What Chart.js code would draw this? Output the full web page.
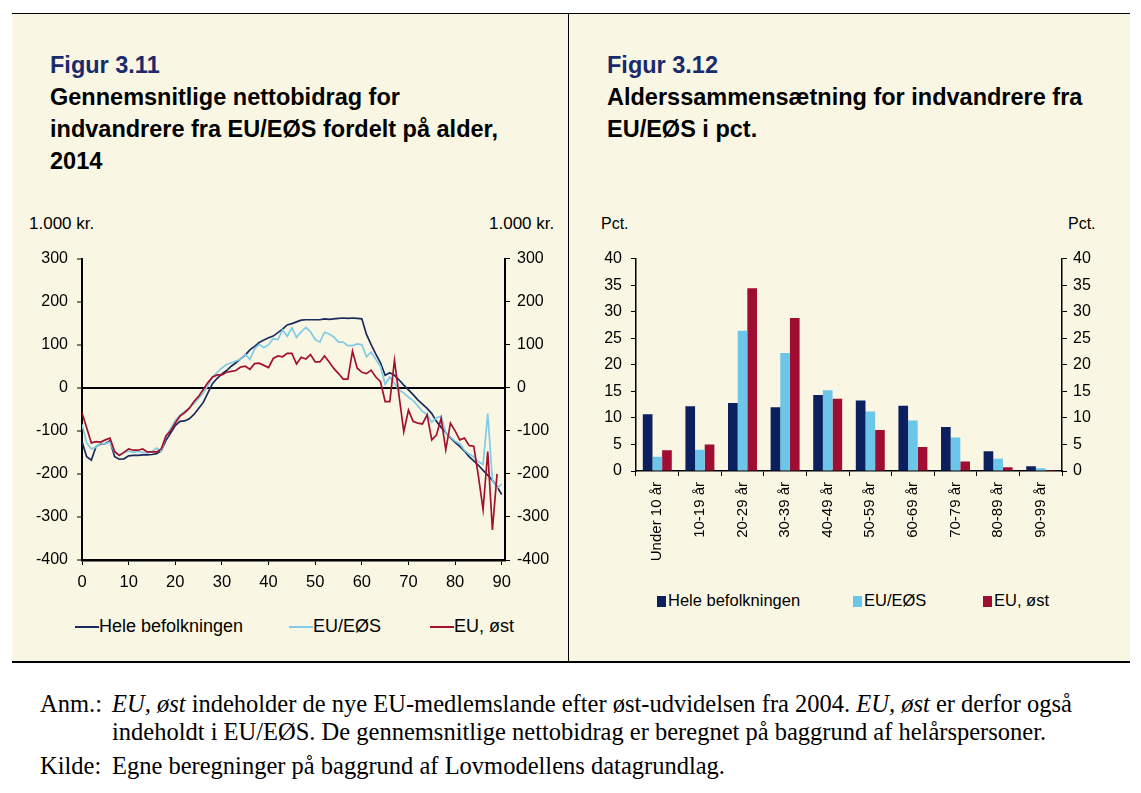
<!DOCTYPE html>
<html>
<head>
<meta charset="utf-8">
<script src="https://cdn.jsdelivr.net/npm/chart.js@4/dist/chart.umd.min.js"></script>
<style>
  body { margin: 0; background: #fff; width: 1141px; height: 793px; position: relative; overflow: hidden;
         font-family: "Liberation Sans", Arial, sans-serif; }
  .panel { position: absolute; left: 12px; top: 13px; width: 1118px; height: 647px; background: #F9F7E3;
           border-top: 1px solid #000; border-bottom: 2px solid #000; }
  .divider { position: absolute; left: 568px; top: 13px; width: 1px; height: 648px; background: #000; }
  .abs { position: absolute; white-space: nowrap; }
  .fig { color: #1B2A6B; font-weight: bold; font-size: 23.5px; }
  .ttl { color: #000; font-weight: bold; font-size: 23.5px; }
  .leg { font-size: 16.5px; }
  .legL { font-size: 18px; }
  .legline { position: absolute; height: 2px; width: 24px; }
  .legbox { position: absolute; width: 9px; height: 11px; }
  .foot { font-family: "Liberation Serif", "DejaVu Serif", serif; font-size: 24.5px; color: #000; }
  canvas { position: absolute; }
</style>
</head>
<body>
<div class="panel"></div>
<div class="divider"></div>

<div class="abs fig" style="left:50px; top:52px;">Figur 3.11</div>
<div class="abs ttl" style="left:50px; top:84px;">Gennemsnitlige nettobidrag for</div>
<div class="abs ttl" style="left:50px; top:116px;">indvandrere fra EU/EØS fordelt på alder,</div>
<div class="abs ttl" style="left:50px; top:148px;">2014</div>

<div class="abs fig" style="left:607px; top:52px;">Figur 3.12</div>
<div class="abs ttl" style="left:607px; top:84px;">Alderssammensætning for indvandrere fra</div>
<div class="abs ttl" style="left:607px; top:116px;">EU/EØS i pct.</div>

<div class="abs" style="left:29px; top:214px; font-size:17px;">1.000 kr.</div>
<div class="abs" style="left:489px; top:214px; font-size:17px;">1.000 kr.</div>
<div class="abs" style="left:601px; top:215px; font-size:16px;">Pct.</div>
<div class="abs" style="left:1068px; top:215px; font-size:16px;">Pct.</div>

<canvas id="lineChart" width="540" height="350" style="left:20px; top:240px;"></canvas>
<canvas id="barChart" width="540" height="340" style="left:580px; top:240px;"></canvas>

<!-- legends -->
<div class="legline" style="left:75px; top:626px; background:#1B2A5E;"></div>
<div class="abs legL" style="left:99px; top:616px;">Hele befolkningen</div>
<div class="legline" style="left:289px; top:626px; background:#80CBE6;"></div>
<div class="abs legL" style="left:313px; top:616px;">EU/EØS</div>
<div class="legline" style="left:430px; top:626px; background:#A3112F;"></div>
<div class="abs legL" style="left:454px; top:616px;">EU, øst</div>

<div class="legbox" style="left:657px; top:596px; background:#0C1F5E;"></div>
<div class="abs leg" style="left:668px; top:591px;">Hele befolkningen</div>
<div class="legbox" style="left:853px; top:596px; background:#6CC6EA;"></div>
<div class="abs leg" style="left:864px; top:591px;">EU/EØS</div>
<div class="legbox" style="left:983px; top:596px; background:#A00D33;"></div>
<div class="abs leg" style="left:994px; top:591px;">EU, øst</div>

<!-- footnote -->
<div class="abs foot" style="left:40px; top:690px;">Anm.:</div>
<div class="abs foot" style="left:112px; top:690px;"><i>EU, øst</i> indeholder de nye EU-medlemslande efter øst-udvidelsen fra 2004. <i>EU, øst</i> er derfor også</div>
<div class="abs foot" style="left:112px; top:718px;">indeholdt i EU/EØS. De gennemsnitlige nettobidrag er beregnet på baggrund af helårspersoner.</div>
<div class="abs foot" style="left:40px; top:752px;">Kilde:</div>
<div class="abs foot" style="left:112px; top:752px;">Egne beregninger på baggrund af Lovmodellens datagrundlag.</div>

<script>
// Figur 3.11 - net contribution by age (1.000 kr.)
const ages = [0, 1, 2, 3, 4, 5, 6, 7, 8, 9, 10, 11, 12, 13, 14, 15, 16, 17, 18, 19,
  20, 21, 22, 23, 24, 25, 26, 27, 28, 29, 30, 31, 32, 33, 34, 35, 36, 37, 38, 39,
  40, 41, 42, 43, 44, 45, 46, 47, 48, 49, 50, 51, 52, 53, 54, 55, 56, 57, 58, 59,
  60, 61, 62, 63, 64, 65, 66, 67, 68, 69, 70, 71, 72, 73, 74, 75, 76, 77, 78, 79,
  80, 81, 82, 83, 84, 85, 86, 87, 88, 89, 90];

const heleBefolkningen = [-125, -160, -168, -137, -130, -130, -123, -160, -166, -165,
  -158, -157, -157, -156, -156, -155, -153, -146, -122, -105,
  -88, -78, -77, -72, -62, -48, -34, -12, 10, 22,
  32, 40, 50, 58, 67, 76, 88, 96, 105, 111,
  116, 120, 128, 136, 146, 149, 153, 157, 158, 158,
  158, 158, 160, 159, 160, 161, 162, 161, 162, 161,
  160, 124, 100, 78, 58, 29, 35, 29, 18, 6,
  -5, -16, -28, -38, -48, -60, -78, -92, -104, -116,
  -127, -136, -147, -160, -170, -180, -192, -203, -215, -230, -248];

const euEos = [-85, -128, -142, -138, -128, -130, -126, -150, -156, -150,
  -147, -150, -148, -150, -152, -148, -140, -148, -112, -95,
  -76, -64, -55, -46, -37, -25, -12, 5, 25, 36,
  46, 54, 58, 62, 66, 78, 66, 90, 101, 93,
  100, 114, 112, 134, 120, 139, 117, 130, 140, 130,
  112, 106, 129, 125, 118, 106, 106, 98, 98, 102,
  100, 72, 83, 66, 50, 8, 25, 10, -5, -12,
  -22, -30, -42, -55, -62, -80, -70, -66, -104, -114,
  -124, -130, -145, -154, -160, -172, -178, -60, -215, -233, -224];

const euOst = [-58, -93, -128, -125, -126, -121, -117, -148, -157, -150,
  -142, -145, -145, -142, -149, -149, -149, -142, -112, -100,
  -82, -66, -58, -48, -32, -20, -4, 12, 25, 30,
  30, 36, 38, 40, 48, 50, 43, 56, 57, 52,
  47, 68, 74, 72, 80, 80, 55, 71, 67, 77,
  60, 60, 74, 60, 45, 33, 20, 20, 85, 46,
  36, 33, 41, 25, 14, -32, -32, 64, -20, -102,
  -52, -78, -82, -84, -63, -121, -110, -71, -144, -82,
  -100, -121, -117, -134, -136, -205, -283, -148, -330, -200, null];

const ageTicks = [0, 10, 20, 30, 40, 50, 60, 70, 80, 90];

// Figur 3.12 - age composition in pct.
const ageGroups = ['Under 10 år', '10-19 år', '20-29 år', '30-39 år', '40-49 år',
  '50-59 år', '60-69 år', '70-79 år', '80-89 år', '90-99 år'];
const pctHele = [10.7, 12.2, 12.8, 12.0, 14.3, 13.3, 12.3, 8.3, 3.7, 0.9];
const pctEuEos = [2.7, 4.0, 26.4, 22.2, 15.2, 11.2, 9.5, 6.3, 2.3, 0.5];
const pctEuOst = [3.9, 5.0, 34.4, 28.8, 13.6, 7.7, 4.5, 1.8, 0.7, 0.2];

Chart.defaults.font.family = '"Liberation Sans", Arial, sans-serif';
Chart.defaults.font.size = 16;
Chart.defaults.color = '#000';

function points(values) {
  return values.map((v, i) => ({ x: ages[i], y: v }));
}

const lineStyle = { pointRadius: 0, borderWidth: 1.7, tension: 0, fill: false, spanGaps: false };

new Chart(document.getElementById('lineChart'), {
  type: 'line',
  data: {
    datasets: [
      Object.assign({ label: 'EU, øst', data: points(euOst), borderColor: '#A3112F' }, lineStyle),
      Object.assign({ label: 'EU/EØS', data: points(euEos), borderColor: '#80CBE6' }, lineStyle),
      Object.assign({ label: 'Hele befolkningen', data: points(heleBefolkningen), borderColor: '#1B2A5E' }, lineStyle)
    ]
  },
  options: {
    responsive: false,
    animation: false,
    layout: { padding: { top: 16, left: 0, right: 0, bottom: 0 } },
    plugins: { legend: { display: false }, tooltip: { enabled: false } },
    scales: {
      x: {
        type: 'linear', min: 0, max: 90.7,
        afterBuildTicks: s => { s.ticks = ageTicks.map(v => ({ value: v })); },
        afterFit: s => { s.height = 30; },
        grid: { drawOnChartArea: false, color: '#000', tickLength: 5, tickWidth: 1 },
        border: { color: '#000', width: 2.5 },
        ticks: { padding: 8, maxRotation: 0, font: { size: 16.5 } }
      },
      y: {
        position: 'left', min: -400, max: 300,
        afterFit: s => { s.width = 62; },
        ticks: { stepSize: 100, padding: 9 },
        grid: {
          color: c => (c.tick && c.tick.value === 0) ? '#000' : 'rgba(0,0,0,0)',
          lineWidth: 2, tickColor: '#000', tickLength: 5, tickWidth: 1
        },
        border: { color: '#000', width: 2 }
      },
      y2: {
        position: 'right', min: -400, max: 300,
        afterFit: s => { s.width = 55; },
        ticks: { stepSize: 100, padding: 7 },
        grid: { drawOnChartArea: false, color: '#000', tickLength: 5, tickWidth: 1 },
        border: { color: '#000', width: 2 }
      }
    }
  }
});

new Chart(document.getElementById('barChart'), {
  type: 'bar',
  data: {
    labels: ageGroups,
    datasets: [
      { label: 'Hele befolkningen', data: pctHele, backgroundColor: '#0C1F5E' },
      { label: 'EU/EØS', data: pctEuEos, backgroundColor: '#6CC6EA' },
      { label: 'EU, øst', data: pctEuOst, backgroundColor: '#A00D33' }
    ]
  },
  options: {
    responsive: false,
    animation: false,
    layout: { padding: { top: 13, left: 0, right: 0, bottom: 0 } },
    plugins: { legend: { display: false }, tooltip: { enabled: false } },
    datasets: { bar: { categoryPercentage: 0.68, barPercentage: 1.0 } },
    scales: {
      x: {
        afterFit: s => { s.height = 109; },
        ticks: { minRotation: 90, maxRotation: 90, padding: 6, autoSkip: false, font: { size: 15 } },
        grid: { drawOnChartArea: false, color: '#000', tickLength: 5, tickWidth: 1 },
        border: { color: '#000', width: 1.5 }
      },
      y: {
        position: 'left', min: 0, max: 40,
        afterFit: s => { s.width = 56; },
        ticks: { stepSize: 5, padding: 9 },
        grid: { drawOnChartArea: false, color: '#000', tickLength: 5, tickWidth: 1 },
        border: { color: '#000', width: 1.5 }
      },
      y2: {
        position: 'right', min: 0, max: 40,
        afterFit: s => { s.width = 58; },
        ticks: { stepSize: 5, padding: 6 },
        grid: { drawOnChartArea: false, color: '#000', tickLength: 5, tickWidth: 1 },
        border: { color: '#000', width: 1.5 }
      }
    }
  }
});
</script>
</body>
</html>
